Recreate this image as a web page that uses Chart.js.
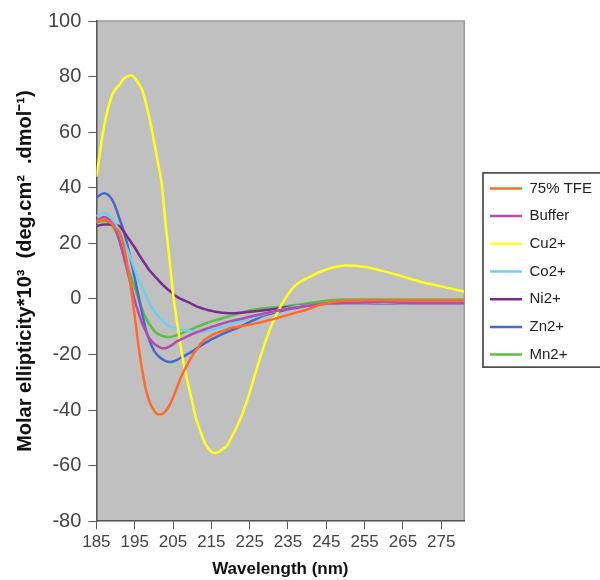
<!DOCTYPE html>
<html>
<head>
<meta charset="utf-8">
<script src="https://cdn.jsdelivr.net/npm/chart.js@4"></script>
<style>
  body { margin: 0; background: #fff; }
</style>
</head>
<body>
<canvas id="chart" width="600" height="580"></canvas>
<script>
// wavelength grid (nm)
var wavelengths = [185,187,189,190,191,192,193,194,195,196,197,198,199,200,201,202,203,204,205,206,207,208,209,210,211,212,213,214,215,216,217,218,219,220,222,224,226,228,230,232,234,236,238,240,243,246,250,255,260,265,270,275,281];

var tfe  = [28,28.5,27,25.5,24,20,13,4,-6,-17,-26,-33,-37.5,-40,-41.5,-41.5,-40.5,-38.5,-35.5,-32,-28.5,-25.5,-23,-20.5,-18.5,-16.5,-15,-14,-13.2,-12.5,-12,-11.5,-11,-10.5,-10,-9.5,-9,-8.4,-7.7,-7,-6.2,-5.4,-4.6,-3.8,-2.3,-1.3,-0.7,-0.5,-0.5,-0.5,-0.5,-0.5,-0.5];
var buffer = [28,29.5,27.5,25,21,16,10.5,5,-0.5,-5,-9,-12,-14.5,-16,-17,-17.7,-17.8,-17.2,-16.3,-15.3,-14.6,-14,-13.3,-12.7,-12.1,-11.6,-11.1,-10.6,-10.1,-9.7,-9.2,-8.8,-8.4,-8,-7.4,-6.8,-6.1,-5.5,-4.9,-4.3,-3.8,-3.3,-2.9,-2.5,-2,-1.6,-1.4,-1.3,-1.1,-1.4,-1.5,-1.5,-1.5];
var cu = [44,62,73,75.5,77,79,80,80.5,79.5,77.5,75,70,64,57,49.5,42,28,15,2,-8,-17,-25,-31,-37,-43,-47,-51,-53.5,-55,-55.5,-55,-54,-53,-50.5,-45,-38,-29,-20,-12,-5.5,-0.5,3.5,6,7.5,9.5,11,12,11.5,10,8,6,4.5,2.6];
var co = [29.8,31,29,27,24.5,21.5,18,14.5,10.5,7,4,1,-2,-4.2,-6,-7.5,-8.8,-9.8,-10.3,-10.8,-11.1,-11.3,-11.5,-11.7,-11.8,-11.8,-11.7,-11.5,-11.2,-10.8,-10.4,-10,-9.6,-9.1,-8.2,-7.4,-6.6,-5.8,-5,-4.3,-3.6,-3,-2.6,-2.3,-2,-1.7,-1.5,-1.5,-1.5,-1.5,-1.5,-1.5,-1.5];
var ni = [26.2,26.8,26.8,26.6,26.2,24.5,22.5,20.5,18.5,16.2,14,12,10,8.5,7,5.5,4.2,3,1.8,0.8,0,-0.6,-1.2,-1.9,-2.6,-3.1,-3.6,-4,-4.3,-4.6,-4.8,-5,-5.1,-5.2,-5.1,-4.8,-4.5,-4.2,-3.9,-3.5,-3.1,-2.8,-2.5,-2.2,-1.9,-1.7,-1.5,-1.5,-1.6,-1.5,-1.5,-1.5,-1.5];
var zn = [36.5,38,36,33,29,25,20,14,7.5,1,-5.5,-11.5,-15.5,-18.5,-20.3,-21.5,-22.3,-22.7,-22.5,-22,-21.2,-20.5,-19.7,-18.9,-18,-17.1,-16.2,-15.4,-14.6,-13.9,-13.2,-12.6,-12,-11.4,-10.3,-9,-7.7,-6.4,-5.5,-4.8,-4.1,-3.5,-3,-2.5,-2,-1.7,-1.5,-1.5,-1.5,-1.5,-1.5,-1.5,-1.5];
var mn = [27.5,28,26.5,24.5,21,16.5,12,8,4,0,-4,-7,-9.5,-11.3,-12.5,-13.2,-13.6,-13.7,-13.5,-13,-12.5,-11.9,-11.3,-10.8,-10.2,-9.7,-9.1,-8.6,-8.1,-7.7,-7.3,-6.9,-6.5,-6.1,-5.3,-4.5,-3.9,-3.5,-3.2,-3,-2.7,-2.4,-2,-1.6,-1,-0.5,-0.2,-0.2,-0.2,-0.2,-0.2,-0.2,-0.2];

var seriesNames = ["75% TFE", "Buffer", "Cu2+", "Co2+", "Ni2+", "Zn2+", "Mn2+"];
var seriesData = [tfe, buffer, cu, co, ni, zn, mn];
var seriesColors = ["#ff6a2a", "#b84aa8", "#ffff1a", "#6fd0ee", "#7a2d8c", "#4a68c8", "#5abf46"];

var xTicks = [185,195,205,215,225,235,245,255,265,275];

function toPoints(vals) {
  return vals.map(function(v, i) { return {x: wavelengths[i], y: v}; });
}

var datasets = seriesNames.map(function(name, i) {
  return {
    label: name,
    data: toPoints(seriesData[i]),
    borderColor: seriesColors[i],
    backgroundColor: seriesColors[i],
    borderWidth: 2.5,
    pointRadius: 0,
    pointStyle: 'line',
    cubicInterpolationMode: 'monotone',
    fill: false
  };
});

// grey plot area, legend nudge and legend frame
var plotBack = {
  id: 'plotBack',
  afterLayout: function(chart) {
    var lg = chart.legend;
    lg.left += 13; lg.right += 13;
    lg.top -= 29; lg.bottom -= 29;
  },
  beforeDraw: function(chart) {
    var a = chart.chartArea, ctx = chart.ctx;
    ctx.save();
    ctx.fillStyle = '#c0c0c0';
    ctx.fillRect(a.left, a.top, a.right - a.left, a.bottom - a.top);
    ctx.strokeStyle = '#9a9a9a';
    ctx.lineWidth = 1.5;
    ctx.beginPath();
    ctx.moveTo(a.left, a.top);
    ctx.lineTo(a.right, a.top);
    ctx.lineTo(a.right, a.bottom);
    ctx.stroke();
    ctx.restore();
  },
  afterDraw: function(chart) {
    var hb = chart.legend.legendHitBoxes, ctx = chart.ctx;
    if (!hb || !hb.length) return;
    var last = hb[hb.length - 1];
    ctx.save();
    ctx.strokeStyle = '#333';
    ctx.lineWidth = 1.5;
    ctx.strokeRect(hb[0].left - 7, hb[0].top - 8, 140, last.top + last.height - hb[0].top + 13);
    ctx.restore();
  }
};

new Chart(document.getElementById("chart"), {
  type: 'line',
  data: { datasets: datasets },
  plugins: [plotBack],
  options: {
    responsive: false,
    animation: false,
    layout: { padding: { top: 21, right: 11, bottom: 0, left: 13 } },
    plugins: {
      tooltip: { enabled: false },
      legend: {
        position: 'right',
        align: 'center',
        labels: {
          usePointStyle: true,
          pointStyle: 'line',
          pointStyleWidth: 32,
          padding: 12.7,
          color: '#222',
          font: { family: 'Liberation Sans, Arial, sans-serif', size: 15 }
        }
      }
    },
    scales: {
      x: {
        type: 'linear',
        min: 185,
        max: 281,
        afterBuildTicks: function(scale) {
          scale.ticks = xTicks.map(function(v) { return {value: v}; });
        },
        grid: { drawOnChartArea: false, drawTicks: true, tickLength: 8, color: '#555' },
        border: { color: '#555', width: 1.5 },
        ticks: {
          color: '#444',
          maxRotation: 0,
          autoSkip: false,
          font: { family: 'Liberation Sans, Arial, sans-serif', size: 17 },
          callback: function(v) { return v; }
        },
        title: {
          display: true,
          text: 'Wavelength (nm)',
          color: '#111',
          font: { family: 'Liberation Sans, Arial, sans-serif', size: 17, weight: 'bold' },
          padding: { top: 4, bottom: 0 }
        }
      },
      y: {
        min: -80,
        max: 100,
        ticks: {
          stepSize: 20,
          padding: 7,
          color: '#444',
          font: { family: 'Liberation Sans, Arial, sans-serif', size: 20 }
        },
        grid: { drawOnChartArea: false, drawTicks: true, tickLength: 8, color: '#555' },
        border: { color: '#555', width: 1.5 },
        title: {
          display: true,
          text: 'Molar ellipticity*10³  (deg.cm²  .dmol⁻¹)',
          color: '#111',
          font: { family: 'Liberation Sans, Arial, sans-serif', size: 20, weight: 'bold' },
          padding: { top: 0, bottom: 4 }
        }
      }
    }
  }
});
</script>
</body>
</html>
